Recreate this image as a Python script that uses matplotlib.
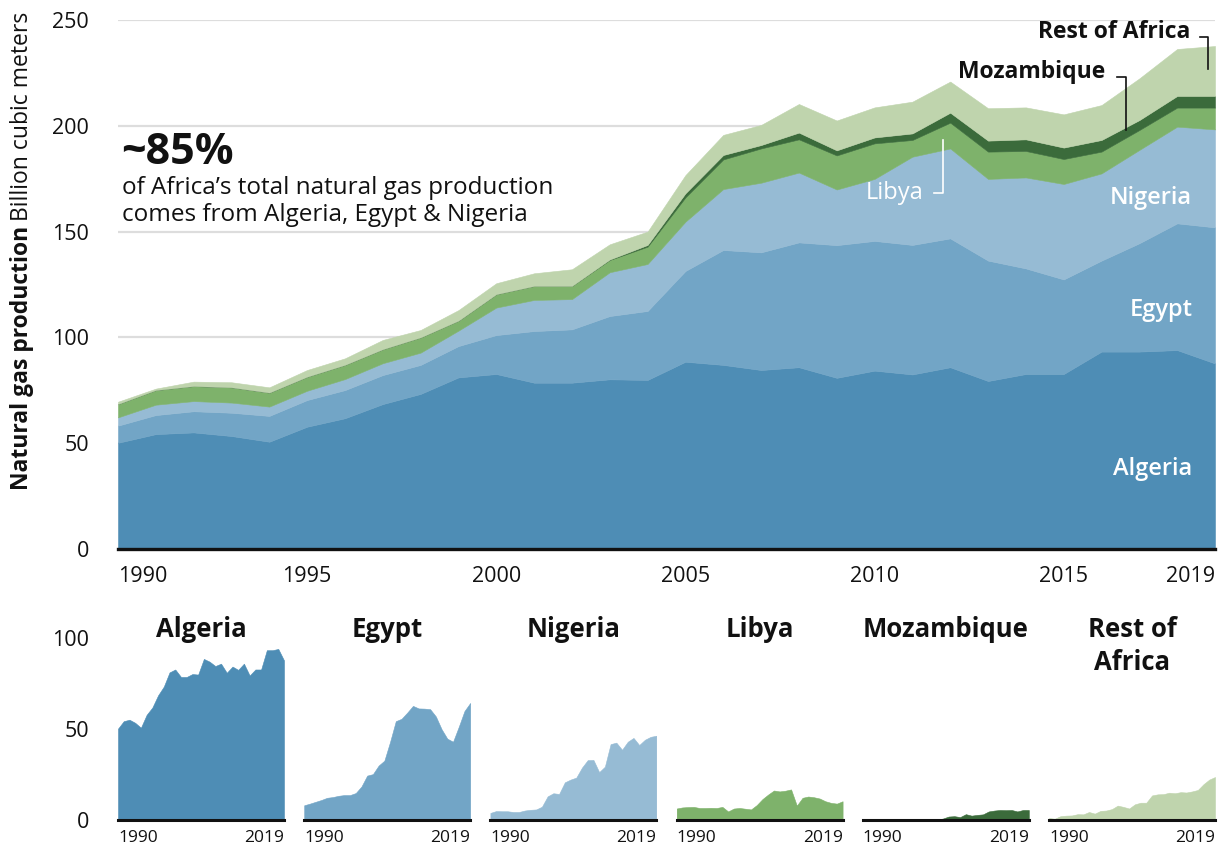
import matplotlib
matplotlib.use('Agg')
import matplotlib.pyplot as plt

plt.rcParams['font.family'] = ['Open Sans', 'DejaVu Sans']

years = list(range(1990, 2020))
algeria = [50.2, 54.3, 55.1, 53.4, 50.7, 57.8, 61.8, 68.5, 73.3, 81.1,
           82.7, 78.6, 78.6, 80.2, 79.9, 88.5, 87.0, 84.6, 85.9, 80.9,
           84.3, 82.5, 85.9, 79.4, 82.7, 82.7, 93.3, 93.3, 94.0, 87.7]
egypt = [8.1, 9.0, 10.0, 11.0, 12.2, 12.6, 13.3, 13.7, 13.7, 14.8,
         18.4, 24.4, 25.2, 29.9, 32.6, 42.9, 54.3, 55.6, 59.0, 62.7,
         61.3, 61.2, 60.9, 56.9, 49.9, 44.7, 43.0, 51.2, 59.9, 64.3]
nigeria = [3.9, 4.9, 4.8, 4.8, 4.4, 4.4, 5.2, 5.6, 5.8, 7.3,
           13.0, 14.7, 14.3, 20.7, 22.2, 23.3, 28.8, 32.9, 33.0, 26.3,
           29.3, 41.7, 42.5, 38.6, 43.0, 45.1, 41.2, 44.1, 45.7, 46.3]
libya = [6.3, 6.9, 7.1, 7.2, 6.6, 6.6, 6.7, 6.6, 7.2, 4.7,
         6.3, 6.6, 6.2, 5.8, 8.2, 11.5, 14.0, 16.2, 15.7, 16.1,
         16.8, 7.9, 12.2, 12.9, 12.5, 11.8, 10.3, 9.4, 9.0, 10.3]
mozambique = [0, 0, 0, 0, 0, 0, 0, 0, 0, 0,
              0, 0, 0, 0.2, 0.8, 1.9, 2.1, 1.6, 3.2, 2.4,
              2.8, 3.1, 4.7, 5.2, 5.5, 5.4, 5.5, 4.7, 5.5, 5.5]
rest_of_africa = [1.1, 0.7, 2.1, 2.4, 2.5, 3.2, 3.1, 4.4, 3.5, 5.0,
                  5.2, 6.0, 7.9, 7.2, 6.3, 8.6, 9.5, 9.5, 13.5, 14.1,
                  14.2, 15.0, 14.7, 15.3, 15.1, 15.7, 16.5, 19.7, 22.2, 23.6]

names = ["Algeria", "Egypt", "Nigeria", "Libya", "Mozambique", "Rest of\nAfrica"]
colors = ["#4e8db5", "#72a5c6", "#96bbd4", "#7eb26b", "#3b6b3b", "#bfd4ad"]
series = [algeria, egypt, nigeria, libya, mozambique, rest_of_africa]

main_yticks = [0, 50, 100, 150, 200, 250]
main_xticks = [1990, 1995, 2000, 2005, 2010, 2015, 2019]
small_yticks = [0, 50, 100]

W, H = 1223, 848
fig = plt.figure(figsize=(W / 100, H / 100), dpi=100)


def px_axes(l, t, r, b):
    return fig.add_axes([l / W, 1 - b / H, (r - l) / W, (b - t) / H])


def ftext(x, y, s, **kw):
    return fig.text(x / W, 1 - y / H, s, **kw)


TXT = '#111111'

# ---------------- main chart ----------------
ax = px_axes(118, 20, 1215, 549)
polys = ax.stackplot(years, *series, colors=colors)
for p, c in zip(polys, colors):
    p.set_edgecolor(c)
    p.set_linewidth(0.4)
ax.set_xlim(1990, 2019)
ax.set_ylim(0, 250)
ax.set_yticks(main_yticks)
ax.set_xticks(main_xticks)
ax.yaxis.grid(True, color='#dddddd', lw=1.6)
ax.set_axisbelow(True)
for s in ax.spines.values():
    s.set_visible(False)
ax.axhline(0, color='#111111', lw=2.4, clip_on=False, zorder=5)
ax.tick_params(axis='y', length=0, pad=21, labelsize=15.5, labelcolor=TXT)
ax.tick_params(axis='x', length=0, pad=12, labelsize=15.5, labelcolor=TXT)
xl = ax.get_xticklabels()
xl[0].set_ha('left')
xl[-1].set_ha('right')

# in-chart labels
lab_kw = dict(color='white', fontsize=17, ha='right', va='center', fontweight='semibold')
ax.text(2018.4, 38, "Algeria", **lab_kw)
ax.text(2018.4, 113, "Egypt", **lab_kw)
ax.text(2018.4, 166, "Nigeria", **lab_kw)
ax.text(2011.3, 168.2, "Libya", color='white', fontsize=17, ha='right', va='center')
ax.text(2016.1, 225.5, "Mozambique", color=TXT, fontsize=16.5, ha='right', va='center', fontweight='bold')
ax.text(2018.35, 244.5, "Rest of Africa", color=TXT, fontsize=16.5, ha='right', va='center', fontweight='bold')

lw_lead = 1.2
ax.plot([2011.57, 2011.81, 2011.81], [168.2, 168.2, 193.3], color='white', lw=lw_lead, clip_on=False, zorder=6)
ax.plot([2016.42, 2016.66, 2016.66], [222.9, 222.9, 198.0], color=TXT, lw=lw_lead, clip_on=False, zorder=6)
ax.plot([2018.6, 2018.82, 2018.82], [241.8, 241.8, 226.7], color=TXT, lw=lw_lead, clip_on=False, zorder=6)

# annotation
ftext(121, 152, "~85%", fontsize=31, fontweight='bold', color=TXT, ha='left', va='center')
ftext(122, 188, "of Africa\u2019s total natural gas production", fontsize=17.5, color=TXT, ha='left', va='center')
ftext(122, 215, "comes from Algeria, Egypt & Nigeria", fontsize=17.5, color=TXT, ha='left', va='center')

# y label
yl1 = ftext(22, 490, "Natural gas production", fontsize=16.5, fontweight='bold', color=TXT,
            rotation=90, ha='center', va='bottom')
fig.canvas.draw()
bb = yl1.get_window_extent()
ftext(22, H - bb.y1 - 5, "Billion cubic meters", fontsize=16.5, color=TXT,
      rotation=90, ha='center', va='bottom')

# ---------------- small multiples ----------------
pw, gap = 166, 20.2
for i, (nm, vals, c) in enumerate(zip(names, series, colors)):
    l = 118 + i * (pw + gap)
    sa = px_axes(l, 638, l + pw, 820)
    sa.fill_between(years, vals, 0, color=c, lw=0.4, edgecolor=c)
    sa.set_xlim(1990, 2019)
    sa.set_ylim(0, 100)
    for s in sa.spines.values():
        s.set_visible(False)
    sa.axhline(0, color='#111111', lw=2.2, clip_on=False, zorder=5)
    sa.set_xticks([])
    if i == 0:
        sa.set_yticks(small_yticks)
        sa.tick_params(axis='y', length=0, pad=21, labelsize=15.5, labelcolor=TXT)
    else:
        sa.set_yticks([])
    sa.text(0, -0.1, str(years[0]), transform=sa.transAxes, ha='left', va='center', fontsize=12.5, color=TXT)
    sa.text(1, -0.1, str(years[-1]), transform=sa.transAxes, ha='right', va='center', fontsize=12.5, color=TXT)
    for j, line in enumerate(nm.split("\n")):
        sa.text(0.5, 1.044 - j * 33 / 182, line, transform=sa.transAxes, ha='center', va='center',
                fontsize=18.5, fontweight='bold', color=TXT)

fig.savefig('out.png', dpi=100)
